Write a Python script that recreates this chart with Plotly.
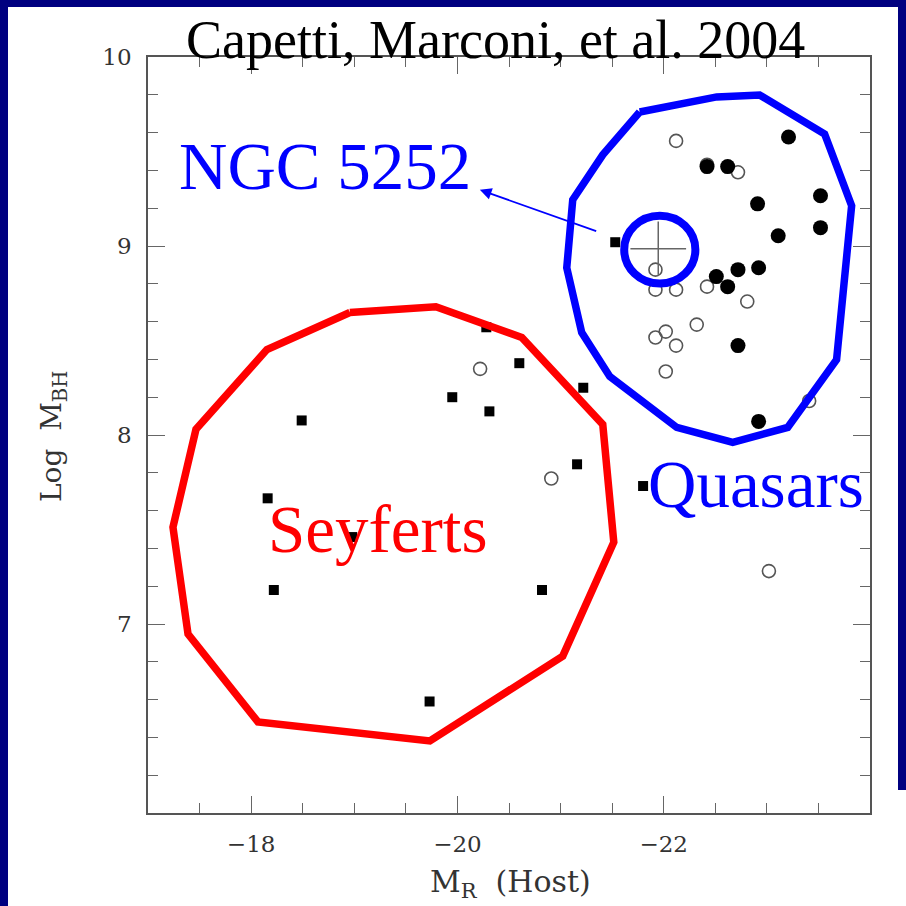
import plotly.graph_objects as go

# ---------------- data ----------------
# filled squares (Seyferts / other)
square_x = [-21.53, -20.28, -20.60, -21.22, -19.95, -20.31, -18.49, -21.16, -18.16, -18.98, -18.22, -20.82, -19.73, -21.80]
square_y = [9.02, 8.57, 8.38, 8.25, 8.20, 8.125, 8.077, 7.845, 7.665, 7.46, 7.18, 7.18, 6.59, 7.73]

# open circles
open_x = [-20.22, -20.91, -23.02, -23.41, -22.12, -22.72, -22.42, -21.92, -21.92, -22.12,
          -22.42, -22.81, -22.32, -22.02, -21.92, -22.12, -22.02]
open_y = [8.35, 7.77, 7.28, 8.18, 9.556, 9.39, 9.43, 8.875, 8.769, 8.769,
          8.785, 8.706, 8.584, 8.547, 8.516, 8.473, 8.336]

# filled circles
filled_x = [-22.42, -22.62, -23.21, -23.52, -22.91, -23.52, -23.11, -22.51, -22.72, -22.92, -22.62, -22.72, -22.92]
filled_y = [9.42, 9.42, 9.577, 9.266, 9.223, 9.097, 9.054, 8.838, 8.875, 8.885, 8.785, 8.473, 8.072]

# NGC 5252 with error cross
ngc_x = [-21.947]
ngc_y = [8.986]
ngc_err_x = [0.27]
ngc_err_y = [0.143]

# Quasar region outline
quasar_poly_x = [-21.767, -22.514, -22.930, -23.560, -23.822, -23.676, -23.202, -22.669,
                 -22.126, -21.477, -21.205, -21.060, -21.118, -21.409, -21.767]
quasar_poly_y = [9.709, 9.789, 9.799, 9.593, 9.213, 8.399, 8.040, 7.961,
                 8.040, 8.310, 8.542, 8.885, 9.245, 9.482, 9.709]

# Seyfert region outline
seyfert_poly_x = [-18.957, -19.791, -20.624, -21.409, -21.516, -21.021, -19.733,
                  -18.066, -17.388, -17.242, -17.465, -18.153, -18.957]
seyfert_poly_y = [8.648, 8.679, 8.516, 8.056, 7.433, 6.830, 6.381,
                  6.482, 6.947, 7.512, 8.030, 8.452, 8.648]

x_tickvals = [-18, -20, -22]
x_ticktext = ["\u221218", "\u221220", "\u221222"]
y_tickvals = [7, 8, 9, 10]
y_ticktext = ["7", "8", "9", "10"]

title_text = "Capetti, Marconi, et al. 2004"

# ---------------- layout geometry ----------------
W, H = 906, 906
ML, MR, MT, MB = 148, 36, 57, 93
PW, PH = W - ML - MR, H - MT - MB


def px(xp):
    return (xp - ML) / PW


def py(yp):
    return (H - MB - yp) / PH


NAVY = "#000080"
BLUE = "#0000ff"
RED = "#ff0000"
SERIF = "Liberation Serif, Times New Roman, serif"
AXFONT = "DejaVu Serif, serif"

fig = go.Figure()

fig.add_trace(go.Scatter(x=open_x, y=open_y, mode="markers",
                         marker=dict(symbol="circle-open", size=13, color="#555555",
                                     line=dict(width=1.6, color="#555555")),
                         showlegend=False, hoverinfo="skip"))
fig.add_trace(go.Scatter(x=filled_x, y=filled_y, mode="markers",
                         marker=dict(symbol="circle", size=15, color="black"),
                         showlegend=False, hoverinfo="skip"))
fig.add_trace(go.Scatter(x=square_x, y=square_y, mode="markers",
                         marker=dict(symbol="square", size=10, color="black"),
                         showlegend=False, hoverinfo="skip"))
fig.add_trace(go.Scatter(x=ngc_x, y=ngc_y, mode="markers",
                         marker=dict(size=1, color="rgba(0,0,0,0)"),
                         error_x=dict(type="data", array=ngc_err_x, color="#666666", thickness=1.5, width=0),
                         error_y=dict(type="data", array=ngc_err_y, color="#666666", thickness=1.5, width=0),
                         showlegend=False, hoverinfo="skip"))
fig.add_trace(go.Scatter(x=seyfert_poly_x, y=seyfert_poly_y, mode="lines",
                         line=dict(color=RED, width=7.5),
                         showlegend=False, hoverinfo="skip"))
fig.add_trace(go.Scatter(x=quasar_poly_x, y=quasar_poly_y, mode="lines",
                         line=dict(color=BLUE, width=7.5),
                         showlegend=False, hoverinfo="skip"))

# circle around NGC 5252
fig.add_shape(type="circle", xref="x", yref="y",
              x0=ngc_x[0] + 0.33, x1=ngc_x[0] - 0.36,
              y0=ngc_y[0] - 0.185, y1=ngc_y[0] + 0.174,
              line=dict(color=BLUE, width=8), layer="above")

# navy frame
for (x0, y0, x1, y1) in [(0, 0, 8, 906), (0, 0, 906, 7), (898, 0, 906, 790)]:
    fig.add_shape(type="rect", xref="paper", yref="paper",
                  x0=px(x0), x1=px(x1), y0=py(y1), y1=py(y0),
                  fillcolor=NAVY, line=dict(width=0), layer="above")

# texts
fig.add_annotation(x=px(495), y=py(40), xref="paper", yref="paper", text=title_text,
                   showarrow=False, font=dict(family=SERIF, size=54, color="black"),
                   xanchor="center", yanchor="middle")
fig.add_annotation(x=-18.715, y=9.424, xref="x", yref="y", text="NGC 5252",
                   showarrow=False, font=dict(family=SERIF, size=67, color=BLUE),
                   xanchor="center", yanchor="middle")
fig.add_annotation(x=-22.891, y=7.739, xref="x", yref="y", text="Quasars",
                   showarrow=False, font=dict(family=SERIF, size=67, color=BLUE),
                   xanchor="center", yanchor="middle")
fig.add_annotation(x=-19.229, y=7.501, xref="x", yref="y", text="Seyferts",
                   showarrow=False, font=dict(family=SERIF, size=67, color=RED),
                   xanchor="center", yanchor="middle")
fig.add_annotation(x=-20.217, y=9.297, ax=-21.36, ay=9.076, xref="x", yref="y",
                   axref="x", ayref="y", text="", showarrow=True,
                   arrowhead=2, arrowsize=1.3, arrowwidth=1.8, arrowcolor=BLUE)

# axis titles
fig.add_annotation(x=px(510), y=py(883), xref="paper", yref="paper",
                   text="M<sub>R</sub>\u00a0\u00a0(Host)", showarrow=False,
                   font=dict(family=AXFONT, size=30, color="#333333"),
                   xanchor="center", yanchor="middle")
fig.add_annotation(x=px(53), y=py(437), xref="paper", yref="paper",
                   text="Log\u00a0\u00a0M<sub>BH</sub>", showarrow=False, textangle=-90,
                   font=dict(family=AXFONT, size=28, color="#333333"),
                   xanchor="center", yanchor="middle")

axis_common = dict(showline=True, linecolor="#555555", linewidth=1.5, mirror="allticks",
                   ticks="inside", ticklen=17, tickwidth=1.3, tickcolor="#666666",
                   showgrid=False, zeroline=False,
                   tickfont=dict(family=AXFONT, size=23, color="#333333"))

fig.update_xaxes(range=[-17, -24], tickmode="array", tickvals=x_tickvals, ticktext=x_ticktext,
                 minor=dict(dtick=0.5, tick0=-18, ticks="inside", ticklen=10, tickcolor="#666666",
                            tickwidth=1.3, showgrid=False),
                 ticklabelstandoff=10, **axis_common)
fig.update_yaxes(range=[6, 10], tickmode="array", tickvals=y_tickvals, ticktext=y_ticktext,
                 minor=dict(dtick=0.2, tick0=6, ticks="inside", ticklen=10, tickcolor="#666666",
                            tickwidth=1.3, showgrid=False),
                 ticklabelstandoff=10, **axis_common)

fig.update_layout(width=W, height=H, margin=dict(l=ML, r=MR, t=MT, b=MB, pad=0),
                  paper_bgcolor="white", plot_bgcolor="white", showlegend=False)

fig.write_html("out.html")
